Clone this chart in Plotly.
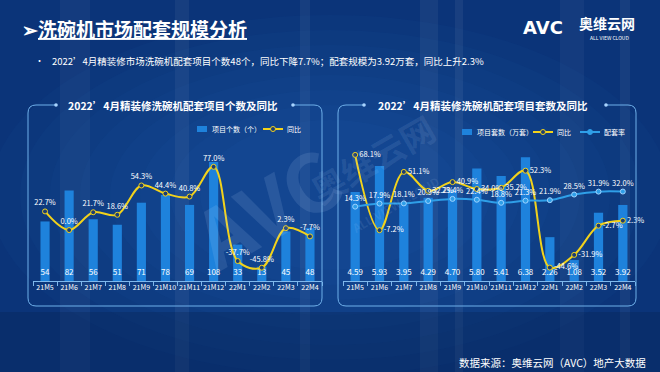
import plotly.graph_objects as go

# ---------------- data ----------------
months = ["21M5", "21M6", "21M7", "21M8", "21M9", "21M10", "21M11", "21M12",
          "22M1", "22M2", "22M3", "22M4"]
project_count = [54, 82, 56, 51, 71, 78, 69, 108, 33, 13, 45, 48]
project_count_yoy = [22.7, 0.0, 21.7, 18.6, 54.3, 44.4, 40.8, 77.0, -37.7, -45.8, 2.3, -7.7]
set_volume = [4.59, 5.93, 3.95, 4.29, 4.70, 5.80, 5.41, 6.38, 2.26, 1.08, 3.52, 3.92]
set_volume_yoy = [68.1, -7.2, 51.1, 32.2, 40.9, 34.0, 35.2, 52.3, -44.6, -31.9, -2.7, 2.3]
match_rate = [14.3, 17.9, 18.1, 20.9, 23.4, 22.4, 18.8, 21.3, 21.9, 28.5, 31.9, 32.0]

W, H = 660, 372
FONT = "Noto Sans CJK SC"
BAR_C = "#1e82dc"
YEL = "#f2d21b"
RATE_C = "#2f9fe8"
LINE_C = "#7fb8ec"


def px(x):
    return x / W


def py(y):
    return 1 - y / H


def pct(v):
    return [f"{a:.1f}%" for a in v]


fig = go.Figure()

# ---------------- left chart ----------------
fig.add_trace(go.Bar(x=months, y=project_count, marker=dict(color=BAR_C, line_width=0),
                     width=0.38, xaxis="x", yaxis="y", showlegend=False, hoverinfo="skip"))
fig.add_trace(go.Scatter(x=months, y=[7] * len(months), mode="text",
                         text=[str(v) for v in project_count],
                         textfont=dict(color="white", size=8, family=FONT), cliponaxis=False,
                         xaxis="x", yaxis="y", showlegend=False, hoverinfo="skip"))
fig.add_trace(go.Scatter(x=months, y=project_count_yoy, mode="lines+markers+text",
                         line=dict(color=YEL, width=2, shape="spline", smoothing=1.0),
                         marker=dict(size=5, color="#1c3d73", line=dict(color=YEL, width=1)),
                         text=pct(project_count_yoy), textposition="top center",
                         textfont=dict(color="white", size=7.5, family=FONT), cliponaxis=False,
                         xaxis="x", yaxis="y2", showlegend=False, hoverinfo="skip"))

# ---------------- right chart ----------------
fig.add_trace(go.Bar(x=months, y=set_volume, marker=dict(color=BAR_C, line_width=0),
                     width=0.38, xaxis="x2", yaxis="y3", showlegend=False, hoverinfo="skip"))
fig.add_trace(go.Scatter(x=months, y=[0.42] * len(months), mode="text",
                         text=[f"{v:.2f}" for v in set_volume],
                         textfont=dict(color="white", size=8, family=FONT), cliponaxis=False,
                         xaxis="x2", yaxis="y3", showlegend=False, hoverinfo="skip"))
fig.add_trace(go.Scatter(x=months, y=match_rate, mode="lines+markers+text",
                         line=dict(color=RATE_C, width=2, shape="spline"),
                         marker=dict(size=5, color=RATE_C, line=dict(color="#9fd3ff", width=1)),
                         text=pct(match_rate), textposition="top center",
                         textfont=dict(color="white", size=7.5, family=FONT), cliponaxis=False,
                         xaxis="x2", yaxis="y5", showlegend=False, hoverinfo="skip"))
fig.add_trace(go.Scatter(x=months, y=set_volume_yoy, mode="lines+markers+text",
                         line=dict(color=YEL, width=2, shape="spline", smoothing=1.0),
                         marker=dict(size=5, color="#1c3d73", line=dict(color=YEL, width=1)),
                         text=pct(set_volume_yoy), textposition="middle right",
                         textfont=dict(color="white", size=7.5, family=FONT), cliponaxis=False,
                         xaxis="x2", yaxis="y4", showlegend=False, hoverinfo="skip"))

ydom = [py(281), py(120)]
xaxis_common = dict(type="category", range=[-0.5, 11.5], showline=True, linecolor=LINE_C,
                    linewidth=1, ticks="outside", tickson="boundaries", ticklen=4,
                    tickcolor=LINE_C, showgrid=False, zeroline=False, tickangle=0,
                    tickfont=dict(color="white", size=7, family=FONT))
yhidden = dict(visible=False, showgrid=False, zeroline=False, domain=ydom)

fig.update_layout(
    width=W, height=H, margin=dict(l=0, r=0, t=0, b=0),
    paper_bgcolor="#0b3479", plot_bgcolor="rgba(0,0,0,0)",
    font=dict(family=FONT, color="white"),
    bargap=0.6,
    xaxis=dict(domain=[px(33), px(322)], anchor="y", **xaxis_common),
    xaxis2=dict(domain=[px(343), px(635)], anchor="y3", **xaxis_common),
    yaxis=dict(range=[0, 146], anchor="x", **yhidden),
    yaxis2=dict(range=[-62, 134], overlaying="y", anchor="x", **yhidden),
    yaxis3=dict(range=[0, 8.3], anchor="x2", **yhidden),
    yaxis4=dict(range=[-58, 103], overlaying="y3", anchor="x2", **yhidden),
    yaxis5=dict(range=[-73, 116], overlaying="y3", anchor="x2", **yhidden),
)

shapes = []
annotations = []

# background glow (many soft layers) and streaks
for k in range(8):
    rxx = 340 - k * 30
    ryy = 180 - k * 15
    shapes.append(dict(type="circle", xref="paper", yref="paper", x0=px(330 - rxx), x1=px(330 + rxx),
                       y0=py(195 + ryy), y1=py(195 - ryy), fillcolor="#3f86dc", opacity=0.035,
                       line_width=0, layer="below"))
for x0, w, op in [(60, 30, 0.04), (175, 14, 0.05), (300, 10, 0.05), (420, 18, 0.05),
                  (455, 8, 0.06), (560, 24, 0.04), (620, 10, 0.05)]:
    shapes.append(dict(type="rect", xref="paper", yref="paper", x0=px(x0), x1=px(x0 + w),
                       y0=0, y1=1, fillcolor="white", opacity=op, line_width=0, layer="below"))
shapes.append(dict(type="rect", xref="paper", yref="paper", x0=0, x1=1, y0=py(372), y1=py(312),
                   fillcolor="#06204f", opacity=0.3, line_width=0, layer="below"))


# panel borders
def panel(xl, xr, yt, yb, d1, d2, r=8):
    rx, ry = r, r
    p = (f"M {px(d1)},{py(yt)} L {px(xl + rx)},{py(yt)} Q {px(xl)},{py(yt)} {px(xl)},{py(yt + ry)} "
         f"L {px(xl)},{py(yb - ry)} Q {px(xl)},{py(yb)} {px(xl + rx)},{py(yb)} "
         f"L {px(xr - rx)},{py(yb)} Q {px(xr)},{py(yb)} {px(xr)},{py(yb - ry)} "
         f"L {px(xr)},{py(yt + ry)} Q {px(xr)},{py(yt)} {px(xr - rx)},{py(yt)} L {px(d2)},{py(yt)}")
    shapes.append(dict(type="path", xref="paper", yref="paper", path=p,
                       line=dict(color="#6fb0ea", width=1)))
    for d in (d1, d2):
        shapes.append(dict(type="circle", xref="paper", yref="paper",
                           x0=px(d - 1.8), x1=px(d + 1.8), y0=py(yt + 1.8), y1=py(yt - 1.8),
                           fillcolor="#a8d4ff", line_width=0))


panel(28, 322, 105, 306, 56, 293)
panel(338, 636, 105, 306, 364, 606)


# manual legends
def leg_bar(x, y, label):
    shapes.append(dict(type="rect", xref="paper", yref="paper", x0=px(x), x1=px(x + 10),
                       y0=py(y + 3), y1=py(y - 3), fillcolor=BAR_C, line_width=0))
    annotations.append(dict(x=px(x + 13), y=py(y), xref="paper", yref="paper", text=label,
                            showarrow=False, xanchor="left", yanchor="middle",
                            font=dict(size=7, color="white", family=FONT)))


def leg_line(x, y, label, color, mfill):
    shapes.append(dict(type="line", xref="paper", yref="paper", x0=px(x), x1=px(x + 20),
                       y0=py(y), y1=py(y), line=dict(color=color, width=2)))
    shapes.append(dict(type="circle", xref="paper", yref="paper", x0=px(x + 7.5), x1=px(x + 12.5),
                       y0=py(y + 2.5), y1=py(y - 2.5), fillcolor=mfill,
                       line=dict(color=color, width=1)))
    annotations.append(dict(x=px(x + 22), y=py(y), xref="paper", yref="paper", text=label,
                            showarrow=False, xanchor="left", yanchor="middle",
                            font=dict(size=7, color="white", family=FONT)))


leg_bar(197, 129, "项目个数（个）")
leg_line(263, 129, "同比", YEL, "#1c3d73")
leg_bar(462, 132, "项目套数（万套）")
leg_line(533, 132, "同比", YEL, "#1c3d73")
leg_line(580, 132, "配套率", RATE_C, RATE_C)


def txt(x, y, s, size, xanchor="left", bold=False, color="white", family=FONT, **kw):
    annotations.append(dict(x=px(x), y=py(y), xref="paper", yref="paper",
                            text=f"<b>{s}</b>" if bold else s, showarrow=False,
                            xanchor=xanchor, yanchor="middle",
                            font=dict(size=size, color=color, family=family), **kw))


# panel titles
txt(173, 106, "2022’4月精装修洗碗机配套项目个数及同比", 10.5, "center", bold=True)
txt(483, 106, "2022’4月精装修洗碗机配套项目套数及同比", 10.5, "center", bold=True)

# header
txt(20, 28, "➢<u>洗碗机市场配套规模分析</u>", 19, bold=True)
txt(33, 61, "•", 9)
txt(50, 61, "2022’4月精装修市场洗碗机配套项目个数48个，同比下降7.7%；配套规模为3.92万套，同比上升2.3%", 9.5)

# logo
txt(521, 27, "AVC", 18, bold=True, family="DejaVu Sans")
txt(577, 23, "奥维云网", 14, bold=True)
txt(588, 37, "ALL VIEW CLOUD", 5)

# footer
txt(648, 362, "数据来源：奥维云网（AVC）地产大数据", 10.5, "right")

# watermark
txt(265, 205, "AVC", 80, "center", bold=True, color="rgba(200,220,255,0.12)", textangle=-30)
txt(372, 158, "奥维云网", 34, "center", bold=True, color="rgba(200,220,255,0.11)", textangle=-30)
txt(395, 205, "ALL VIEW CLOUD", 12, "center", bold=True, color="rgba(200,220,255,0.10)", textangle=-30)

fig.update_layout(shapes=shapes, annotations=annotations)
fig.write_html("out.html", config={"displayModeBar": False},
               post_script="document.body.style.margin='0';document.body.style.overflow='hidden';")
